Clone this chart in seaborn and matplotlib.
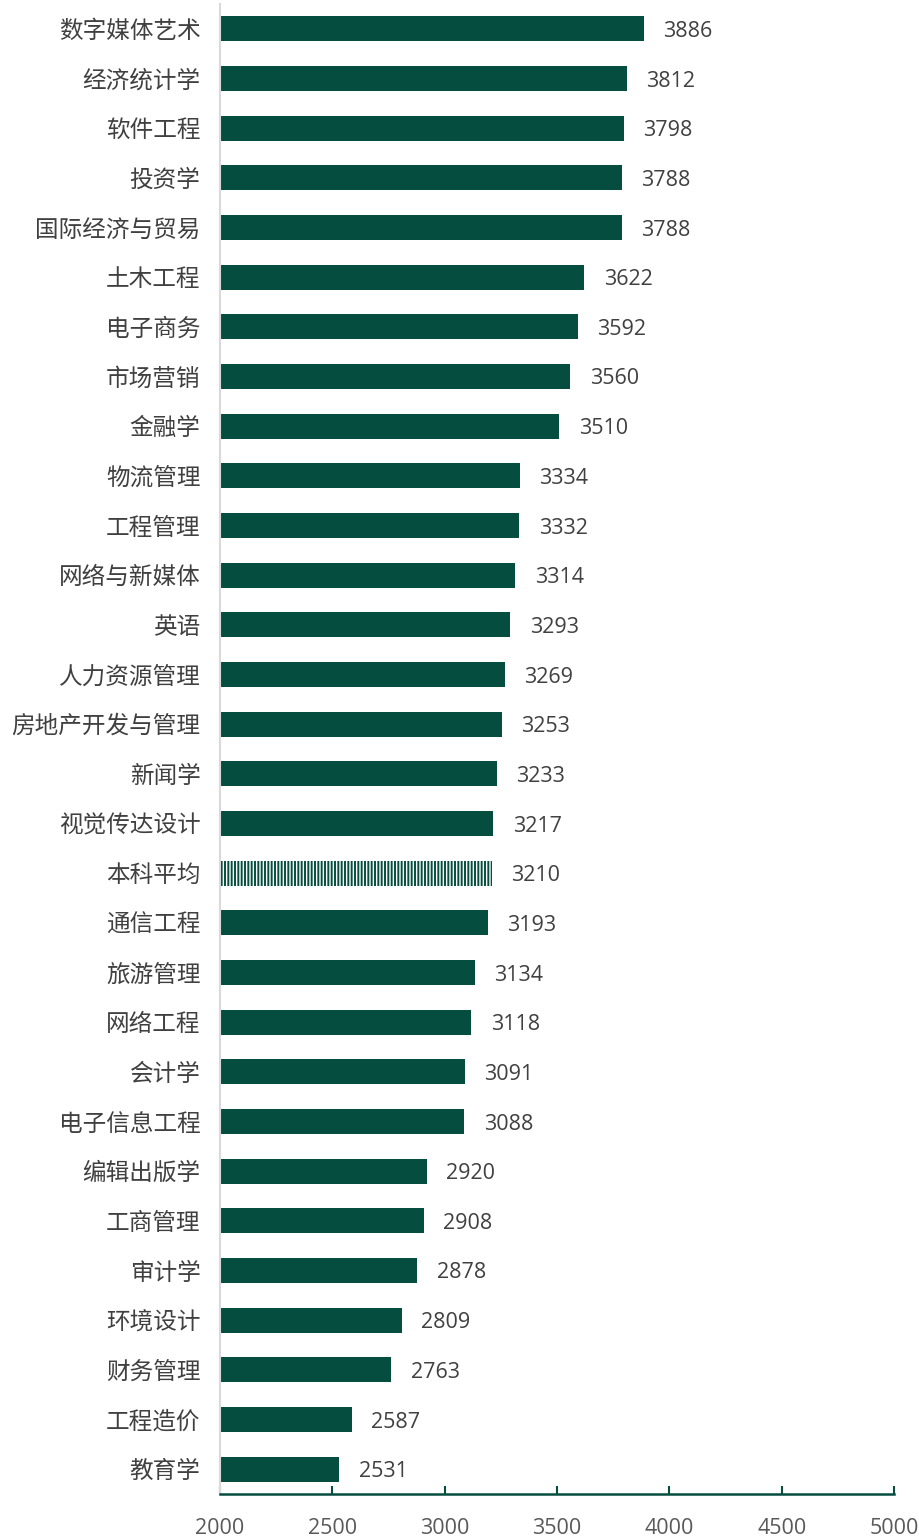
import matplotlib
matplotlib.use("Agg")
import matplotlib.pyplot as plt
import seaborn as sns
import pandas as pd

majors = ["数字媒体艺术", "经济统计学", "软件工程", "投资学", "国际经济与贸易", "土木工程",
          "电子商务", "市场营销", "金融学", "物流管理", "工程管理", "网络与新媒体", "英语",
          "人力资源管理", "房地产开发与管理", "新闻学", "视觉传达设计", "本科平均", "通信工程",
          "旅游管理", "网络工程", "会计学", "电子信息工程", "编辑出版学", "工商管理", "审计学",
          "环境设计", "财务管理", "工程造价", "教育学"]
salary = [3886, 3812, 3798, 3788, 3788, 3622, 3592, 3560, 3510, 3334, 3332, 3314, 3293,
          3269, 3253, 3233, 3217, 3210, 3193, 3134, 3118, 3091, 3088, 2920, 2908, 2878,
          2809, 2763, 2587, 2531]
average_label = "本科平均"
x_ticks = [2000, 2500, 3000, 3500, 4000, 4500, 5000]

green = "#054D3F"

sns.set_theme(style="white")
plt.rcParams['font.family'] = ['Noto Sans CJK SC', 'DejaVu Sans']
plt.rcParams['hatch.linewidth'] = 1.4

df = pd.DataFrame({"major": majors, "salary": salary})

fig = plt.figure(figsize=(9.19, 15.37), dpi=100)
ax = fig.add_axes([220 / 919, 43 / 1537, 674 / 919, (1537 - 43 - 4) / 1537])

sns.barplot(data=df, x="salary", y="major", orient="h", color=green,
            width=0.5, saturation=1, ax=ax)

for patch, name in zip(ax.patches, majors):
    patch.set_linewidth(0)
    if name == average_label:
        patch.set_facecolor("white")
        patch.set_edgecolor(green)
        patch.set_hatch("|||||")

texts = ax.bar_label(ax.containers[0], labels=[str(v) for v in salary], padding=14,
                     fontsize=15.5, color="#404040", family=['Open Sans', 'DejaVu Sans'])
for t in texts:
    t.set_va("center_baseline")

ax.set_xlim(2000, 5000)
ax.set_ylim(len(majors) - 0.5, -0.5)
ax.set_xticks(x_ticks)
ax.set_xticklabels([str(t) for t in x_ticks], family=['Open Sans', 'DejaVu Sans'])
ax.set_xlabel("")
ax.set_ylabel("")

ax.tick_params(axis="x", direction="in", length=6, width=1.5, color=green,
               labelsize=15.5, labelcolor="#595959", pad=17, bottom=True)
ax.tick_params(axis="y", length=0, labelsize=17, labelcolor="#404040", pad=14)

for side in ["top", "right"]:
    ax.spines[side].set_visible(False)
ax.spines["left"].set_color("#D9D9D9")
ax.spines["left"].set_linewidth(1.5)
ax.spines["bottom"].set_color(green)
ax.spines["bottom"].set_linewidth(1.8)

fig.savefig("out.png", dpi=100)
